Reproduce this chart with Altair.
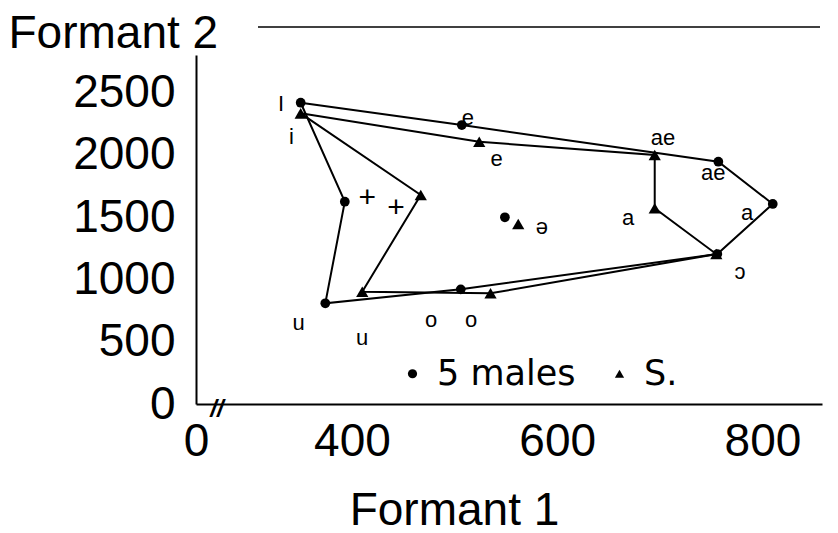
import altair as alt
import pandas as pd

# ---- data ----
vowels = ["i", "e", "ae", "a", "ɔ", "o", "u", "ɨ", "ə"]
males_f1 = [350, 507, 757, 810, 756, 506, 374, 393, 549]
males_f2 = [2417, 2238, 1944, 1605, 1203, 920, 808, 1623, 1498]
s_f1 = [350, 524, 695, 695, 755, 535, 410, 467, 562]
s_f2 = [2332, 2104, 1998, 1570, 1203, 888, 901, 1677, 1444]
series_names = ["5 males", "S."]
polygon_order = ["i", "e", "ae", "a", "ɔ", "o", "u", "ɨ", "i"]

label_text = ["I", "i", "e", "e", "ae", "ae", "a", "a", "ɔ", "o", "o", "u", "u", "+", "+", "ə"]
label_f1 = [331, 341, 513, 541, 703, 752, 669, 785, 778, 477, 516, 348, 410, 415, 443, 585]
label_f2 = [2407, 2145, 2295, 1966, 2134, 1853, 1492, 1532, 1059, 674, 674, 650, 530, 1653, 1573, 1423]

x_ticks = [248, 400, 600, 800]
y_ticks = [0, 500, 1000, 1500, 2000, 2500]

# ---- tables ----
series_data = [("5 males", males_f1, males_f2), ("S.", s_f1, s_f2)]
pts_rows, poly_rows = [], []
for name, f1s, f2s in series_data:
    lookup = {}
    for v, a, b in zip(vowels, f1s, f2s):
        pts_rows.append(dict(series=name, vowel=v, f1=a, f2=b))
        lookup[v] = (a, b)
    for k, v in enumerate(polygon_order):
        poly_rows.append(dict(series=name, step=k, f1=lookup[v][0], f2=lookup[v][1]))
pts = pd.DataFrame(pts_rows)
poly = pd.DataFrame(poly_rows)
labels = pd.DataFrame(dict(text=label_text, f1=label_f1, f2=label_f2))

FONT = "Liberation Sans"

x_scale = alt.Scale(domain=[248, 858], nice=False, zero=False)
y_scale = alt.Scale(domain=[0, 2800], nice=False, zero=False)

x_axis = alt.Axis(
    values=x_ticks, format="d",
    labelExpr="datum.value < 300 ? '0' : datum.label",
    title="Formant 1", ticks=False, grid=False,
    labelFlush=False, labelOverlap=False,
    labelBaseline="middle", labelPadding=37,
    titleX=258, titleY=120, titleAlign="center", titleBaseline="alphabetic",
)
y_axis = alt.Axis(
    values=y_ticks, format="d",
    title="Formant 2", titleAngle=0, titleAlign="left", titleBaseline="alphabetic",
    titleX=-188, titleY=-8,
    ticks=False, grid=False, labelPadding=21, labelOverlap=False,
)

lines = alt.Chart(poly).mark_line(color="black", strokeWidth=2).encode(
    x=alt.X("f1:Q", scale=x_scale, axis=x_axis),
    y=alt.Y("f2:Q", scale=y_scale, axis=y_axis),
    detail="series:N",
    order="step:Q",
)

points = alt.Chart(pts).mark_point(filled=True, opacity=1, color="black").encode(
    x="f1:Q",
    y="f2:Q",
    shape=alt.Shape(
        "series:N",
        scale=alt.Scale(domain=series_names, range=["circle", "triangle-up"]),
        legend=alt.Legend(
            title=None, orient="none", legendX=199, legendY=301,
            direction="horizontal", columns=2,
            labelFontSize=35, labelFont="DejaVu Sans", labelColor="black",
            symbolSize=85, symbolFillColor="black", symbolStrokeColor="black",
            symbolStrokeWidth=0, labelOffset=7, columnPadding=26, padding=0,
        ),
    ),
    size=alt.condition("datum.series == 'S.'", alt.value(150), alt.value(95)),
)

text = alt.Chart(labels).mark_text(font=FONT, color="black").encode(
    x="f1:Q", y="f2:Q", text="text:N",
    size=alt.condition("datum.text == '+'", alt.value(30), alt.value(22)),
)

top_rule = alt.Chart(pd.DataFrame({"k": [0]})).mark_rule(color="black", strokeWidth=1.5).encode(
    x=alt.value(62), x2=alt.value(624), y=alt.value(-28)
)

brk = alt.Chart(pd.DataFrame({"k": [0]})).mark_text(
    text="//", font=FONT, fontSize=24, fontStyle="italic", fontWeight="bold", color="black"
).encode(x=alt.value(21), y=alt.value(355))

chart = (
    alt.layer(lines, points, text, top_rule, brk)
    .properties(
        width=626, height=349,
        autosize=alt.AutoSizeParams(type="none"),
        padding={"left": 188, "top": 47, "right": 8, "bottom": 121},
    )
    .configure_view(stroke=None)
    .configure_axis(
        domainColor="black", domainWidth=2,
        labelFont=FONT, labelFontSize=46, labelColor="black",
        titleFont=FONT, titleFontSize=46, titleFontWeight="normal", titleColor="black",
    )
)

chart.save("out.html", embed_options={"renderer": "svg", "actions": False})
